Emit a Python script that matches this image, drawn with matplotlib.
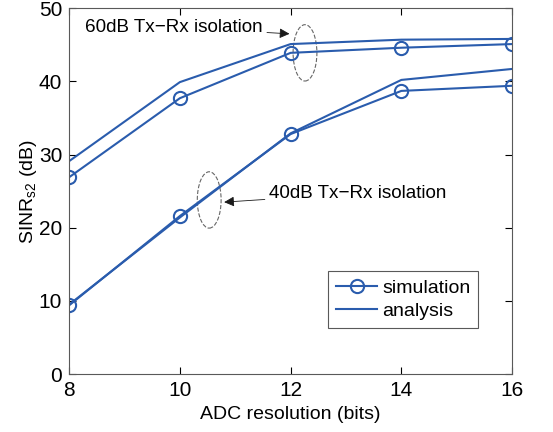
import numpy as np
import matplotlib.pyplot as plt
from matplotlib.patches import Ellipse

plt.rcParams['font.family'] = ['Liberation Sans', 'DejaVu Sans']

# datos
bits = [8, 10, 12, 14, 16]
sim_60 = [26.9, 37.7, 43.9, 44.6, 45.1]
ana_60 = [29.1, 39.9, 45.1, 45.7, 45.8]
sim_40 = [9.4, 21.6, 32.8, 38.7, 39.4]
ana_40 = [9.5, 21.4, 32.9, 40.2, 41.7]

azul = '#2a5cad'

fig = plt.figure(figsize=(5.53, 4.32), dpi=100)
ax = fig.add_axes([0.125, 0.134, 0.801, 0.847])

ax.plot(bits, sim_60, '-o', color=azul, lw=1.5, ms=9.5, mfc='none', mew=1.5, label='simulation')
ax.plot(bits, ana_60, '-', color=azul, lw=1.5, label='analysis')
ax.plot(bits, sim_40, '-o', color=azul, lw=1.5, ms=9.5, mfc='none', mew=1.5)
ax.plot(bits, ana_40, '-', color=azul, lw=1.5)

# elipses punteadas
for cx, cy in [(12.26, 43.9), (10.53, 23.8)]:
    ax.add_patch(Ellipse((cx, cy), 0.43, 7.7, fill=False, ls='--', lw=0.8, ec='0.4'))

flecha = dict(arrowstyle='-|>', color='0.1', lw=0.6, mutation_scale=15, shrinkA=1, shrinkB=0)
ax.annotate('60dB Tx\u2212Rx isolation', xy=(11.98, 46.5), xytext=(8.29, 47.4),
            fontsize=13.6, va='center', arrowprops=flecha)
ax.annotate('40dB Tx\u2212Rx isolation', xy=(10.8, 23.5), xytext=(11.61, 24.7),
            fontsize=13.6, va='center', arrowprops=flecha)

ax.set_xlim(8, 16)
ax.set_ylim(0, 50)
ax.set_xticks([8, 10, 12, 14, 16])
ax.set_yticks([0, 10, 20, 30, 40, 50])
ax.tick_params(direction='in', top=True, right=True, labelsize=15, length=5, pad=5)
for s in ax.spines.values():
    s.set_color('0.35')
ax.set_xlabel('ADC resolution (bits)', fontsize=14, labelpad=4)
ax.set_ylabel('SINR$_{\\mathregular{s2}}$ (dB)', fontsize=14, labelpad=0)

leg = ax.legend(loc='lower right', bbox_to_anchor=(0.923, 0.126), fontsize=14,
                fancybox=False, edgecolor='0.35', framealpha=1,
                handlelength=2.1, borderpad=0.4, labelspacing=0.3, handletextpad=0.25,
                borderaxespad=0)
leg.get_frame().set_linewidth(0.8)

plt.savefig('out.png', dpi=100)
